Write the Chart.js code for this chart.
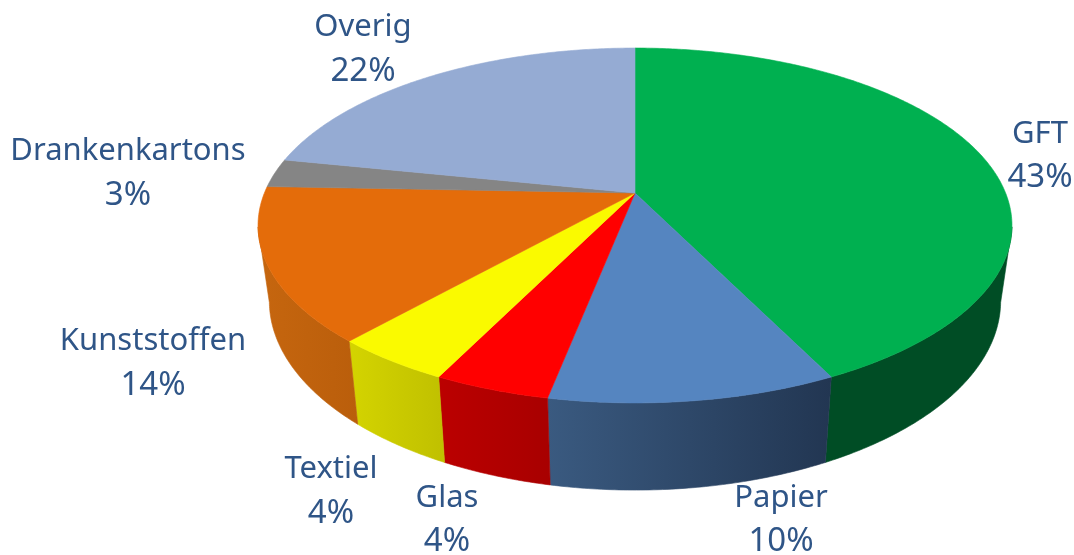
<!DOCTYPE html>
<html>
<head>
<meta charset="utf-8">
<script src="https://cdn.jsdelivr.net/npm/chart.js@4"></script>
<style>
  html, body { margin: 0; padding: 0; background: #fff; }
  canvas { display: block; filter: blur(0.7px); }
</style>
</head>
<body>
<canvas id="chart" width="1074" height="555"></canvas>
<script>
const categories = ["GFT", "Papier", "Glas", "Textiel", "Kunststoffen", "Drankenkartons", "Overig"];
const shares = [42.7, 10.4, 4.2, 4.3, 14, 2.6, 21.8];

const topColors = ["#00b050", "#5585c0", "#ff0000", "#fafa00", "#e46c0a", "#858585", "#95abd3"];
const wallLeftColors = ["#004d25", "#3a5a80", "#bb0000", "#d4d400", "#c6660f", "#858585", "#95abd3"];
const wallRightColors = ["#004d25", "#223652", "#a80000", "#c0c000", "#ba5e0b", "#858585", "#95abd3"];

// label centres and baselines, two lines each
const labelX = [1040, 781, 447, 331, 153, 128, 363];
const labelY1 = [143, 507, 507, 478, 350, 160, 36];
const labelY2 = [187, 551, 551, 523, 395, 205, 81];

// perspective of the pie top, fitted on the picture
const cx = 635, cy = 193, radiusX = 370.6, radiusY = 171.5, persp = 0.183;
const frontFrom = 101 * Math.PI / 180, frontTo = 259 * Math.PI / 180;

function project(theta, bottom) {
  const u = Math.sin(theta), v = Math.cos(theta);
  const w = 1 + persp * v;
  let x = cx + radiusX * u / w;
  let y = cy - radiusY * v / w;
  if (bottom) {
    x = cx + 0.97 * (x - cx);
    y = y + 86 + 0.066 * (y - 385);
  }
  return [x, y];
}

function arcPoints(from, to, bottom) {
  const pts = [];
  const steps = Math.max(2, Math.ceil((to - from) / 0.01));
  for (let i = 0; i <= steps; i++) {
    pts.push(project(from + (to - from) * i / steps, bottom));
  }
  return pts;
}

function fillPath(ctx, pts, style) {
  ctx.beginPath();
  pts.forEach((p, i) => (i ? ctx.lineTo(p[0], p[1]) : ctx.moveTo(p[0], p[1])));
  ctx.closePath();
  ctx.fillStyle = style;
  ctx.strokeStyle = style;
  ctx.lineWidth = 0.6;
  ctx.fill();
  ctx.stroke();
}

const perspectivePie = {
  id: "perspectivePie",
  beforeDatasetsDraw(chart) {
    const ctx = chart.ctx;
    const arcs = chart.getDatasetMeta(0).data;
    const angles = arcs.map((a) => [a.startAngle + Math.PI / 2, a.endAngle + Math.PI / 2]);

    // side walls first, only the part facing the viewer
    angles.forEach((ang, i) => {
      const from = Math.max(ang[0], frontFrom);
      const to = Math.min(ang[1], frontTo);
      if (to <= from) return;
      const upper = arcPoints(from, to, false);
      const lower = arcPoints(from, to, true).reverse();
      const xs = upper.concat(lower).map((p) => p[0]);
      const grad = ctx.createLinearGradient(Math.min(...xs), 0, Math.max(...xs), 0);
      grad.addColorStop(0, wallLeftColors[i]);
      grad.addColorStop(1, wallRightColors[i]);
      fillPath(ctx, upper.concat(lower), grad);
    });

    angles.forEach((ang, i) => {
      fillPath(ctx, [[cx, cy]].concat(arcPoints(ang[0], ang[1], false)), topColors[i]);
    });
    return false;
  },
  afterDraw(chart) {
    const ctx = chart.ctx;
    const values = chart.data.datasets[0].data;
    ctx.save();
    ctx.fillStyle = "#2f5587";
    ctx.textAlign = "center";
    chart.data.labels.forEach((name, i) => {
      ctx.font = '31px "Noto Sans", sans-serif';
      ctx.fillText(name, labelX[i], labelY1[i]);
      ctx.font = '33px "Noto Sans", sans-serif';
      ctx.fillText(Math.round(values[i]) + "%", labelX[i], labelY2[i]);
    });
    ctx.restore();
  },
};

new Chart(document.getElementById("chart").getContext("2d"), {
  type: "pie",
  data: {
    labels: categories,
    datasets: [{ data: shares, backgroundColor: topColors, borderWidth: 0 }],
  },
  options: {
    responsive: false,
    animation: false,
    plugins: {
      legend: { display: false },
      tooltip: { enabled: false },
    },
  },
  plugins: [perspectivePie],
});
</script>
</body>
</html>
